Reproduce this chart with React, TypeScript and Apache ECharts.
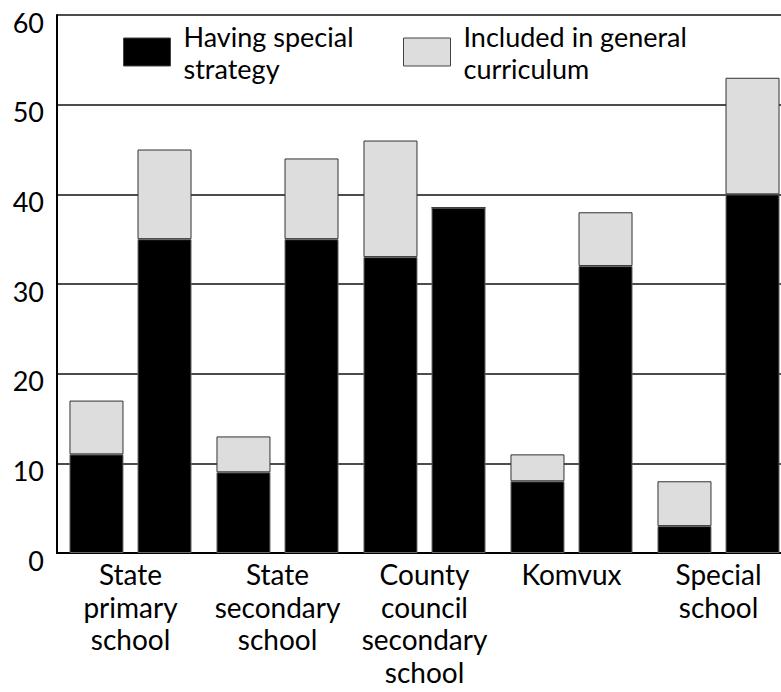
import React, { useEffect, useRef } from "react";
import * as echarts from "echarts";

const categories = [
  "State\nprimary\nschool",
  "State\nsecondary\nschool",
  "County\ncouncil\nsecondary\nschool",
  "Komvux",
  "Special\nschool",
];
// first bar of each pair
const strategyA = [11, 9, 33, 8, 3];
const generalA = [6, 4, 13, 3, 5];
// second bar of each pair
const strategyB = [35, 35, 38.5, 32, 40];
const generalB = [10, 9, 0, 6, 13];
const yTicks = [0, 10, 20, 30, 40, 50, 60];

const NAME_STRAT = "Having special strategy";
const NAME_GEN = "Included in general curriculum";
const FONT = "Lato";

export default function App() {
  const ref = useRef<HTMLDivElement>(null);
  useEffect(() => {
    if (!ref.current) return;
    const chart = echarts.init(ref.current, undefined, { renderer: "svg" });
    const blackStyle = { color: "#000", borderColor: "#666", borderWidth: 1 };
    const grayStyle = { color: "#dddddd", borderColor: "#333", borderWidth: 1 };
    const legendText = {
      fontFamily: FONT,
      fontSize: 27,
      lineHeight: 32,
      color: "#000",
      padding: [0, 0, 0, 8],
    };
    chart.setOption({
      animation: false,
      textStyle: { fontFamily: FONT },
      grid: { left: 57, right: 0, top: 15, bottom: 139, containLabel: false },
      legend: [
        {
          data: [NAME_STRAT],
          left: 123,
          top: 20,
          padding: 0,
          icon: "rect",
          itemWidth: 47,
          itemHeight: 28,
          selectedMode: false,
          formatter: () => "Having special\nstrategy",
          textStyle: legendText,
          itemStyle: { borderColor: "#444", borderWidth: 1 },
        },
        {
          data: [NAME_GEN],
          left: 403,
          top: 20,
          padding: 0,
          icon: "rect",
          itemWidth: 47,
          itemHeight: 28,
          selectedMode: false,
          formatter: () => "Included in general\ncurriculum",
          textStyle: legendText,
          itemStyle: { borderColor: "#444", borderWidth: 1 },
        },
      ],
      xAxis: {
        type: "category",
        data: categories,
        axisLine: { show: true, lineStyle: { color: "#000", width: 2 } },
        axisTick: { show: false },
        axisLabel: {
          interval: 0,
          margin: 5,
          fontFamily: FONT,
          fontSize: 28,
          lineHeight: 32.5,
          color: "#000",
          align: "center",
        },
      },
      yAxis: {
        type: "value",
        min: yTicks[0],
        max: yTicks[yTicks.length - 1],
        interval: 10,
        axisLine: { show: true, lineStyle: { color: "#000", width: 2 } },
        axisTick: { show: false },
        splitLine: { show: true, lineStyle: { color: "#111", width: 1.5 } },
        axisLabel: {
          margin: 13,
          fontFamily: FONT,
          fontSize: 27,
          lineHeight: 14,
          color: "#000",
          verticalAlign: "top",
        },
      },
      series: [
        {
          name: NAME_STRAT,
          type: "bar",
          stack: "a",
          data: strategyA,
          barWidth: 54,
          barGap: "26%",
          itemStyle: blackStyle,
        },
        {
          name: NAME_GEN,
          type: "bar",
          stack: "a",
          data: generalA,
          barWidth: 54,
          barGap: "26%",
          itemStyle: grayStyle,
        },
        {
          name: NAME_STRAT,
          type: "bar",
          stack: "b",
          data: strategyB,
          barWidth: 54,
          barGap: "26%",
          itemStyle: blackStyle,
        },
        {
          name: NAME_GEN,
          type: "bar",
          stack: "b",
          data: generalB,
          barWidth: 54,
          barGap: "26%",
          itemStyle: grayStyle,
        },
      ],
    });
    return () => chart.dispose();
  }, []);
  return (
    <div
      ref={ref}
      style={{ position: "fixed", left: 0, top: 0, width: 792, height: 692, background: "#fff" }}
    />
  );
}
